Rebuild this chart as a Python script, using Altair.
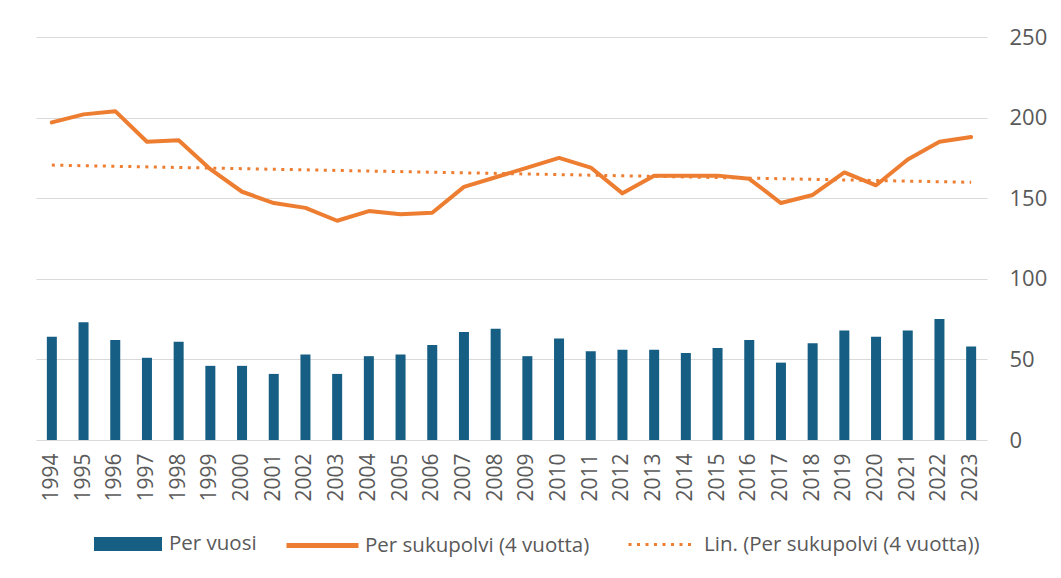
import altair as alt
import pandas as pd

years = list(range(1994, 2024))
per_vuosi = [64, 73, 62, 51, 61, 46, 46, 41, 53, 41, 52, 53, 59, 67, 69, 52,
             63, 55, 56, 56, 54, 57, 62, 48, 60, 68, 64, 68, 75, 58]
per_sukupolvi = [197, 202, 204, 185, 186, 168, 154, 147, 144, 136, 142, 140, 141, 157, 163, 169,
                 175, 169, 153, 164, 164, 164, 162, 147, 152, 166, 158, 174, 185, 188]
y_ticks = [0, 50, 100, 150, 200, 250]

S1 = "Per vuosi"
S2 = "Per sukupolvi (4 vuotta)"
S3 = "Lin. (Per sukupolvi (4 vuotta))"

BLUE = "#165e83"
ORANGE = "#ed7d31"
GRAY = "#595959"
FONT = "Open Sans"

df = pd.DataFrame({"year": years, "vuosi": per_vuosi, "suku": per_sukupolvi})
base = alt.Chart(df)

x = alt.X("year:O", title=None,
          scale=alt.Scale(paddingInner=0, paddingOuter=0),
          axis=alt.Axis(labelAngle=-90, labelFontSize=21, labelColor=GRAY, labelFont=FONT,
                        ticks=False, domain=False, labelPadding=13, grid=False))
y_axis = alt.Axis(orient="right", values=y_ticks, labelFontSize=22, labelColor=GRAY,
                  labelFont=FONT, ticks=False, domain=False, labelPadding=22,
                  grid=True, gridColor="#d9d9d9", gridWidth=1.2)
yscale = alt.Scale(domain=[0, 250], nice=False)

common_legend = dict(title=None, orient="none", labelFontSize=20.5, labelColor=GRAY,
                     labelFont=FONT, labelLimit=500, padding=0)

bars = base.mark_bar(size=10).transform_calculate(k1="'%s'" % S1).encode(
    x=x,
    y=alt.Y("vuosi:Q", scale=yscale, axis=y_axis, title=None),
    fill=alt.Fill("k1:N", scale=alt.Scale(domain=[S1], range=[BLUE]),
                  legend=alt.Legend(legendX=57, legendY=472,
                                    symbolType="M-1,-0.206H1V0.206H-1Z", symbolSize=4624,
                                    labelOffset=6, **common_legend)),
)

line = base.mark_line(strokeWidth=4, strokeJoin="round", strokeCap="round").transform_calculate(
    k2="'%s'" % S2).encode(
    x=x,
    y=alt.Y("suku:Q", scale=yscale, title=None),
    stroke=alt.Stroke("k2:N", scale=alt.Scale(domain=[S2], range=[ORANGE]),
                      legend=alt.Legend(legendX=248, legendY=470,
                                        symbolType="stroke", symbolSize=5184,
                                        symbolStrokeWidth=5,
                                        labelOffset=4, **common_legend)),
)

trend = base.transform_regression("year", "suku").transform_calculate(
    k3="'%s'" % S3).mark_line(strokeWidth=3, color=ORANGE).encode(
    x=x,
    y=alt.Y("suku:Q", scale=yscale, title=None),
    strokeDash=alt.StrokeDash("k3:N", scale=alt.Scale(domain=[S3], range=[[3, 5.5]]),
                              legend=alt.Legend(legendX=591, legendY=472,
                                                symbolType="stroke", symbolSize=4624,
                                                symbolStrokeWidth=3, symbolStrokeColor=ORANGE,
                                                labelOffset=6, **common_legend)),
)

chart = alt.layer(bars, trend, line).resolve_scale(y="shared").properties(
    width=951, height=403,
    padding={"left": 28, "top": 18, "right": 5, "bottom": 5},
).configure(font=FONT).configure_view(stroke=None)

chart.save("out.html", embed_options={"renderer": "svg", "actions": False})
